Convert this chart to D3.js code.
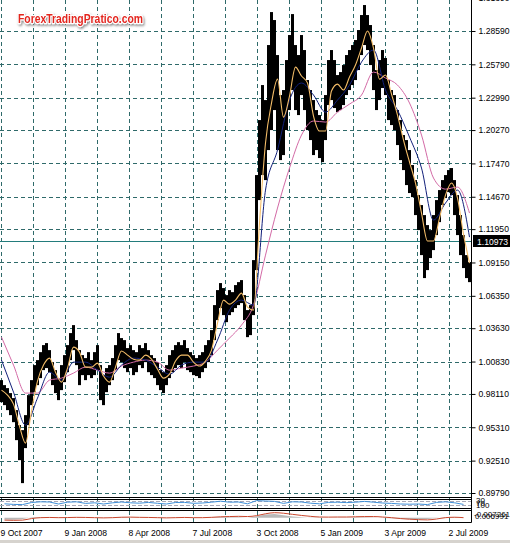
<!DOCTYPE html>
<html>
<head>
<meta charset="utf-8">
<script src="https://cdnjs.cloudflare.com/ajax/libs/d3/7.8.5/d3.min.js"></script>
<style>
body { margin: 0; background: #fff; }
svg { display: block; }
text { font-family: "Liberation Sans", Arial, sans-serif; }
</style>
</head>
<body>
<svg width="510" height="543"></svg>
<script>
// price bars, one every 3 trading days (high / low)
var barHigh = [
	0.9927, 0.9885, 0.9860, 0.9818, 0.9776, 0.9675, 0.9549, 0.9507, 0.9633, 0.9801,
	0.9927, 1.0053, 1.0095, 1.0162, 1.0221, 1.0238, 1.0179, 1.0078, 1.0011, 0.9944,
	1.0053, 1.0137, 1.0221, 1.0322, 1.0389, 1.0263, 1.0179, 1.0137, 1.0112, 1.0162,
	1.0095, 1.0162, 1.0221, 1.0053, 0.9969, 1.0028, 1.0053, 1.0112, 1.0221, 1.0322,
	1.0280, 1.0263, 1.0196, 1.0221, 1.0179, 1.0162, 1.0221, 1.0196, 1.0238, 1.0179,
	1.0137, 1.0112, 1.0078, 1.0011, 0.9994, 1.0053, 1.0137, 1.0179, 1.0221, 1.0246,
	1.0221, 1.0263, 1.0196, 1.0162, 1.0137, 1.0112, 1.0137, 1.0162, 1.0221, 1.0263,
	1.0347, 1.0557, 1.0683, 1.0742, 1.0700, 1.0641, 1.0683, 1.0666, 1.0725, 1.0750,
	1.0767, 1.0641, 1.0515, 1.0557, 1.0935, 1.1649, 1.2111, 1.2405, 1.2279, 1.2741,
	1.3018, 1.2951, 1.2657, 1.2321, 1.2363, 1.2615, 1.2825, 1.3001, 1.2741, 1.2657,
	1.2825, 1.2699, 1.2447, 1.2363, 1.2279, 1.2195, 1.2153, 1.2111, 1.2321, 1.2615,
	1.2699, 1.2615, 1.2489, 1.2514, 1.2573, 1.2657, 1.2699, 1.2741, 1.2783, 1.2867,
	1.2993, 1.3077, 1.2993, 1.2909, 1.2741, 1.2531, 1.2615, 1.2699, 1.2632, 1.2447,
	1.2363, 1.2321, 1.2195, 1.2111, 1.1985, 1.1943, 1.1859, 1.1733, 1.1607, 1.1481,
	1.1397, 1.1313, 1.1229, 1.1187, 1.1313, 1.1439, 1.1523, 1.1607, 1.1649, 1.1691,
	1.1708, 1.1607, 1.1481, 1.1313, 1.1145, 1.0977, 1.0918
];
var barLow = [
	0.9742, 0.9717, 0.9675, 0.9633, 0.9574, 0.9423, 0.9255, 0.9062, 0.9356, 0.9549,
	0.9717, 0.9826, 0.9885, 0.9944, 1.0011, 1.0028, 0.9994, 0.9885, 0.9818, 0.9759,
	0.9843, 0.9910, 0.9994, 1.0095, 1.0179, 1.0053, 0.9885, 0.9969, 0.9927, 0.9969,
	0.9944, 0.9969, 1.0011, 0.9759, 0.9717, 0.9826, 0.9885, 0.9927, 1.0011, 1.0095,
	1.0078, 1.0028, 0.9994, 1.0028, 0.9969, 0.9994, 1.0053, 1.0028, 1.0078, 0.9994,
	0.9969, 0.9944, 0.9885, 0.9843, 0.9818, 0.9885, 0.9944, 0.9994, 1.0028, 1.0053,
	1.0028, 1.0078, 1.0011, 0.9994, 0.9969, 0.9961, 0.9944, 0.9994, 1.0028, 1.0078,
	1.0137, 1.0263, 1.0431, 1.0532, 1.0473, 1.0414, 1.0473, 1.0498, 1.0532, 1.0557,
	1.0574, 1.0431, 1.0288, 1.0305, 1.0473, 1.0851, 1.1439, 1.1649, 1.1607, 1.1859,
	1.2027, 1.2195, 1.1859, 1.1775, 1.1817, 1.2027, 1.2195, 1.2363, 1.2195, 1.2153,
	1.2321, 1.2195, 1.2027, 1.1943, 1.1817, 1.1859, 1.1792, 1.1758, 1.1943, 1.2237,
	1.2279, 1.2212, 1.2178, 1.2195, 1.2237, 1.2321, 1.2363, 1.2405, 1.2447, 1.2531,
	1.2657, 1.2741, 1.2699, 1.2573, 1.2363, 1.2195, 1.2279, 1.2380, 1.2321, 1.2111,
	1.2069, 1.2027, 1.1901, 1.1775, 1.1691, 1.1565, 1.1498, 1.1464, 1.1313, 1.1187,
	1.0977, 1.0784, 1.0851, 1.0952, 1.1019, 1.1145, 1.1254, 1.1397, 1.1456, 1.1506,
	1.1481, 1.1313, 1.1145, 1.0977, 1.0868, 1.0784, 1.0750
];

// moving averages: fast one every 2 bars, the others every 4 bars
var maFast = [
	0.9843, 0.9801, 0.9725, 0.9541, 0.9398, 0.9667, 0.9919, 1.0053, 1.0112, 0.9994,
	0.9910, 1.0028, 1.0204, 1.0162, 1.0036, 1.0036, 1.0070, 0.9961, 0.9910, 1.0036,
	1.0171, 1.0137, 1.0103, 1.0095, 1.0137, 1.0103, 1.0019, 0.9944, 0.9977, 1.0087,
	1.0137, 1.0137, 1.0078, 1.0045, 1.0087, 1.0179, 1.0406, 1.0599, 1.0565, 1.0599,
	1.0658, 1.0540, 1.0515, 1.1246, 1.1918, 1.2254, 1.2455, 1.2136, 1.2313, 1.2556,
	1.2481, 1.2422, 1.2145, 1.2019, 1.2019, 1.2355, 1.2413, 1.2363, 1.2472, 1.2573,
	1.2716, 1.2859, 1.2716, 1.2455, 1.2489, 1.2329, 1.2153, 1.1943, 1.1758, 1.1582,
	1.1330, 1.1095, 1.1095, 1.1288, 1.1481, 1.1582, 1.1456, 1.1153, 1.0910
];
var maMid = [
	1.0095, 0.9826, 0.9549, 0.9776, 0.9994, 0.9927, 1.0078, 1.0078, 1.0011, 0.9952,
	1.0053, 1.0112, 1.0095, 1.0036, 0.9977, 1.0053, 1.0078, 1.0078, 1.0263, 1.0515,
	1.0599, 1.0557, 1.1523, 1.1859, 1.2279, 1.2422, 1.2321, 1.2178, 1.2279, 1.2405,
	1.2598, 1.2699, 1.2363, 1.2195, 1.1968, 1.1708, 1.1271, 1.1414, 1.1523, 1.1128
];
var maSlow = [
	1.0288, 1.0053, 0.9818, 0.9818, 0.9927, 0.9944, 0.9986, 1.0036, 1.0011, 0.9986,
	1.0045, 1.0078, 1.0095, 1.0078, 1.0011, 1.0028, 1.0045, 1.0078, 1.0179, 1.0280,
	1.0389, 1.0557, 1.0977, 1.1372, 1.1708, 1.1985, 1.2103, 1.2094, 1.2178, 1.2245,
	1.2321, 1.2514, 1.2464, 1.2405, 1.2254, 1.1985, 1.1624, 1.1531, 1.1548, 1.1330
];

// sub windows, one value every 3 bars
var rsi = [
	42, 36, 34, 55, 62, 60, 40, 58, 62, 46,
	52, 40, 52, 60, 52, 48, 56, 47, 40, 55,
	56, 47, 50, 58, 68, 58, 60, 42, 74, 70,
	66, 46, 62, 60, 48, 42, 56, 58, 54, 58,
	66, 58, 50, 46, 40, 38, 40, 34, 56, 62,
	52, 36
];
var macdSignal = [
	-0.022, -0.024, -0.022, -0.008, 0.000, 0.002, 0.000, 0.001, 0.003, 0.002,
	0.000, -0.002, 0.000, 0.004, 0.005, 0.003, 0.002, 0.000, -0.002, 0.000,
	0.002, 0.000, 0.000, 0.003, 0.008, 0.010, 0.012, 0.010, 0.018, 0.035,
	0.045, 0.040, 0.030, 0.020, 0.012, 0.006, 0.005, 0.006, 0.006, 0.008,
	0.010, 0.010, 0.006, 0.000, -0.008, -0.014, -0.018, -0.020, -0.012, 0.000,
	0.004, 0.000
];
var macdHist = [
	-0.016, -0.018, -0.012, 0.004, 0.003, 0.001, -0.002, 0.001, 0.002, -0.001,
	0.000, -0.003, 0.001, 0.003, 0.002, 0.000, 0.000, -0.002, -0.003, 0.001,
	0.002, -0.001, 0.000, 0.003, 0.006, 0.004, 0.004, 0.000, 0.012, 0.028,
	0.032, 0.022, 0.010, 0.004, -0.002, -0.004, 0.000, 0.002, 0.001, 0.003,
	0.004, 0.002, -0.003, -0.006, -0.010, -0.012, -0.013, -0.011, -0.002, 0.004,
	0.003, -0.003
];

var priceTicks = [1.31390, 1.28590, 1.25790, 1.22990, 1.20270, 1.17470, 1.14670, 1.11950,
	1.09150, 1.06350, 1.03630, 1.00830, 0.98110, 0.95310, 0.92510, 0.89790];
var dateLabels = ["9 Oct 2007", "9 Jan 2008", "8 Apr 2008", "7 Jul 2008",
	"3 Oct 2008", "5 Jan 2009", "3 Apr 2009", "2 Jul 2009"];
var dateDays = [1, 65, 129, 193, 257, 321, 385, 449];   // trading day index of each label
var lastPrice = 1.10973;
var rsiLevels = [70, 30];

var svg = d3.select("svg"),
width   = +svg.attr("width"),
height  = +svg.attr("height");

var plotW = 471,
mainBottom = 497.5, sub1Top = 499.5, sub1Bottom = 508.5, sub2Top = 510.5, sub2Bottom = 522.5;
var gridColor = "#2f6a6a";

// one pixel per trading day, bars are 3 days wide
var x  = d3.scaleLinear().domain([0, 471]).range([0, 471]);
var y  = d3.scaleLinear().domain([0.8979, 1.2859]).range([493, 31]);
var y1 = d3.scaleLinear().domain([30, 70]).range([505, 501]);
var y2 = d3.scaleLinear().domain([-0.03, 0.06]).range([521, 511]);

function dayOfBar(j) { return j * 3 + 1.5; }

svg.append("rect").attr("width", width).attr("height", height).attr("fill", "#fff");

var defs = svg.append("defs");
defs.append("clipPath").attr("id", "clipMain")
	.append("rect").attr("x", 0).attr("y", 0).attr("width", plotW).attr("height", mainBottom);
defs.append("clipPath").attr("id", "clipSub")
	.append("rect").attr("x", 0).attr("y", sub1Top).attr("width", plotW).attr("height", sub2Bottom - sub1Top);
var shadow = defs.append("filter").attr("id", "shadow")
	.attr("x", "-10%").attr("y", "-40%").attr("width", "120%").attr("height", "180%");
shadow.append("feDropShadow").attr("dx", 1).attr("dy", 1.5)
	.attr("stdDeviation", 1).attr("flood-color", "#555").attr("flood-opacity", 0.7);

// grid
var grid = svg.append("g").attr("class", "grid")
	.attr("stroke", gridColor).attr("stroke-width", 1).attr("stroke-dasharray", "4,3");

grid.selectAll(".hgrid").data(priceTicks).enter().append("line")
	.attr("x1", 0).attr("x2", plotW)
	.attr("y1", function(d) { return Math.round(y(d)) + 0.5; })
	.attr("y2", function(d) { return Math.round(y(d)) + 0.5; });

grid.selectAll(".vgrid").data(d3.range(1, 471, 32)).enter().append("line")
	.attr("x1", function(d) { return Math.round(x(d)) + 0.5; })
	.attr("x2", function(d) { return Math.round(x(d)) + 0.5; })
	.attr("y1", 0).attr("y2", sub2Bottom);

// last price line
svg.append("line")
	.attr("x1", 0).attr("x2", plotW)
	.attr("y1", Math.round(y(lastPrice)) + 0.5).attr("y2", Math.round(y(lastPrice)) + 0.5)
	.attr("stroke", "#237c7c").attr("stroke-width", 1);

var main = svg.append("g").attr("clip-path", "url(#clipMain)");

// price bars
main.append("g").attr("fill", "#000")
	.selectAll("rect").data(barHigh).enter().append("rect")
	.attr("x", function(d, j) { return x(j * 3); })
	.attr("width", 3)
	.attr("y", function(d) { return y(d); })
	.attr("height", function(d, j) { return Math.max(1, y(barLow[j]) - y(d)); });

function maLine(step) {
	return d3.line()
		.x(function(d, i) { return x(dayOfBar(i * step)); })
		.y(function(d) { return y(d); })
		.curve(d3.curveMonotoneX);
}

main.append("path").datum(maSlow).attr("d", maLine(4))
	.attr("fill", "none").attr("stroke", "#d36aa6").attr("stroke-width", 1);
main.append("path").datum(maMid).attr("d", maLine(4))
	.attr("fill", "none").attr("stroke", "#12207a").attr("stroke-width", 1);
main.append("path").datum(maFast).attr("d", maLine(2))
	.attr("fill", "none").attr("stroke", "#f4bd68").attr("stroke-width", 1.1);

// sub windows
var sub = svg.append("g").attr("clip-path", "url(#clipSub)");

sub.selectAll(".level").data(rsiLevels).enter().append("line")
	.attr("x1", 0).attr("x2", plotW)
	.attr("y1", function(d) { return Math.round(y1(d)) + 0.5; })
	.attr("y2", function(d) { return Math.round(y1(d)) + 0.5; })
	.attr("stroke", "#a9a9b9").attr("stroke-dasharray", "4,2");

sub.append("path").datum(rsi)
	.attr("d", d3.line()
		.x(function(d, k) { return x(dayOfBar(k * 3 + 1)); })
		.y(function(d) { return y1(d); }))
	.attr("fill", "none").attr("stroke", "#3f8fd8").attr("stroke-width", 1);

sub.append("path").datum(macdHist)
	.attr("d", d3.area()
		.x(function(d, k) { return x(dayOfBar(k * 3 + 1)); })
		.y0(y2(0))
		.y1(function(d) { return y2(d); }))
	.attr("fill", "#b9b9b9");

sub.append("path").datum(macdSignal)
	.attr("d", d3.line()
		.x(function(d, k) { return x(dayOfBar(k * 3 + 1)); })
		.y(function(d) { return y2(d); })
		.curve(d3.curveMonotoneX))
	.attr("fill", "none").attr("stroke", "#c9472d").attr("stroke-width", 1);

// window borders
svg.append("g").attr("stroke", "#000").attr("stroke-width", 1)
	.selectAll("line").data([mainBottom, sub1Top, sub1Bottom, sub2Top, sub2Bottom]).enter().append("line")
	.attr("x1", 0).attr("x2", plotW + 0.5)
	.attr("y1", function(d) { return d; }).attr("y2", function(d) { return d; });

svg.append("line")
	.attr("x1", plotW + 0.5).attr("x2", plotW + 0.5)
	.attr("y1", 0).attr("y2", sub2Bottom)
	.attr("stroke", "#000");

// price axis
var yAxis = svg.append("g")
	.attr("transform", "translate(" + (plotW + 0.5) + ",0)")
	.call(d3.axisRight(y).tickValues(priceTicks).tickSize(4).tickPadding(3)
		.tickFormat(d3.format(".5f")));
yAxis.select(".domain").remove();
yAxis.selectAll(".tick line").attr("stroke", "#000");
yAxis.selectAll(".tick text")
	.style("font-family", "'Liberation Sans', Arial, sans-serif")
	.style("font-size", "8.6px").attr("fill", "#000");

// last price label
var lp = svg.append("g").attr("transform", "translate(473," + Math.round(y(lastPrice)) + ")");
lp.append("rect").attr("x", 0).attr("y", -6).attr("width", 37).attr("height", 12).attr("fill", "#000");
lp.append("text").attr("x", 4).attr("y", 3.5)
	.style("font-size", "8.6px").attr("fill", "#fff").text(d3.format(".5f")(lastPrice));

// sub window labels (overlapping like the terminal draws them)
var subLabels = svg.append("g").style("font-size", "8px").attr("fill", "#000");
subLabels.append("text").attr("x", 476).attr("y", 503).text("30");
subLabels.append("text").attr("x", 476).attr("y", 505.5).text("70");
subLabels.append("text").attr("x", 476).attr("y", 507.5).text("100");
subLabels.append("text").attr("x", 474).attr("y", 516.5).text("-0.007261");
subLabels.append("text").attr("x", 475).attr("y", 518.5).text("0.006991");

// time axis
var xAxis = svg.append("g")
	.attr("transform", "translate(0," + sub2Bottom + ")")
	.call(d3.axisBottom(x).tickValues(dateDays).tickSize(0).tickPadding(7)
		.tickFormat(function(d, i) { return dateLabels[i]; }));
xAxis.select(".domain").remove();
xAxis.selectAll(".tick text")
	.attr("text-anchor", "start").attr("dx", -1)
	.style("font-family", "'Liberation Sans', Arial, sans-serif")
	.style("font-size", "8.6px").attr("fill", "#000");

svg.append("rect").attr("x", 0).attr("y", 540).attr("width", width).attr("height", 3).attr("fill", "#d6d3ce");

// watermark
svg.append("text")
	.attr("x", 18).attr("y", 23)
	.attr("textLength", 125).attr("lengthAdjust", "spacingAndGlyphs")
	.style("font-family", "'Liberation Sans', Arial, sans-serif")
	.style("font-size", "12.5px").style("font-weight", "bold")
	.attr("fill", "#e3251f").attr("stroke", "#fff").attr("stroke-width", 2.4)
	.attr("paint-order", "stroke").attr("stroke-linejoin", "round")
	.attr("filter", "url(#shadow)")
	.text("ForexTradingPratico.com");
</script>
</body>
</html>
